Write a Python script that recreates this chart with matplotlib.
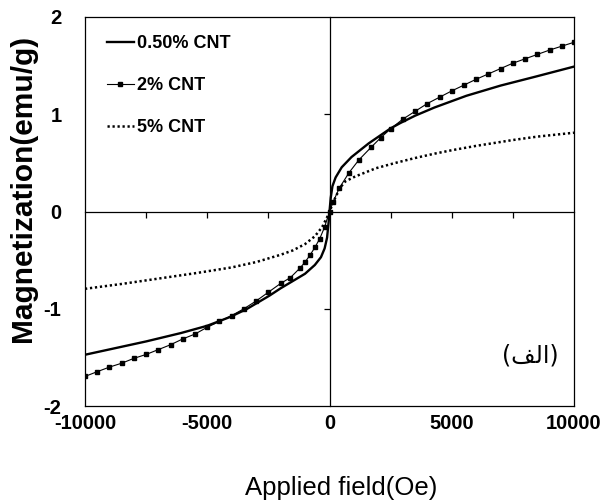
import matplotlib
matplotlib.use("Agg")
import matplotlib.pyplot as plt

plt.rcParams['font.family'] = ['Liberation Sans', 'DejaVu Sans']
plt.rcParams['axes.unicode_minus'] = False

# ---- data ----
field_05 = [-10000, -7500, -6080, -5000, -4070, -3385, -2460, -2000, -1500, -1000, -600, -350, -200,
            -100, -40, 0, 50, 120, 250, 500, 900, 1600, 2500, 2900, 3500, 4300, 5600, 7000,
            8400, 10000]
mag_05 = [-1.473, -1.336, -1.25, -1.175, -1.085, -1.003, -0.866, -0.79, -0.715, -0.64, -0.55, -0.47,
          -0.38, -0.27, -0.12, 0.0, 0.14, 0.26, 0.35, 0.455, 0.56, 0.70, 0.855, 0.91, 0.985, 1.07,
          1.19, 1.295, 1.385, 1.49]

field_2 = [-10000, -9500, -9000, -8500, -8000, -7500, -7000, -6500, -6000, -5500, -5000, -4500,
           -4000, -3500, -3000, -2500, -2000, -1600, -1200, -1000, -800, -600, -400, -200, 0,
           150, 400, 800, 1200, 1700, 2100, 2500, 3000, 3500, 4000, 4500, 5000, 5500, 6000,
           6500, 7000, 7500, 8000, 8500, 9000, 9500, 10000]
mag_2 = [-1.696, -1.647, -1.60, -1.56, -1.51, -1.47, -1.42, -1.37, -1.31, -1.26, -1.19, -1.13,
         -1.07, -1.00, -0.92, -0.83, -0.74, -0.68, -0.58, -0.52, -0.45, -0.37, -0.28, -0.16, 0.0,
         0.10, 0.24, 0.40, 0.53, 0.66, 0.76, 0.85, 0.95, 1.03, 1.11, 1.175, 1.24, 1.30, 1.36,
         1.415, 1.47, 1.525, 1.57, 1.615, 1.66, 1.70, 1.74]

field_5 = [-10000, -8500, -7000, -5500, -4000, -3000, -2000, -1500, -1000, -600, -300, -100, 0,
           100, 250, 450, 650, 1050, 1900, 2700, 3500, 4300, 5000, 6000, 7500, 8500, 10000]
mag_5 = [-0.795, -0.745, -0.69, -0.635, -0.575, -0.52, -0.445, -0.40, -0.335, -0.255, -0.16, -0.06,
         0.0, 0.06, 0.15, 0.25, 0.31, 0.36, 0.445, 0.50, 0.55, 0.595, 0.63, 0.675, 0.735, 0.77, 0.81]

series_labels = ['0.50% CNT', '2% CNT', '5% CNT']
x_ticks = [-10000, -5000, 0, 5000, 10000]
x_tick_labels = ['-10000', '-5000', '0', '5000', '10000']
y_ticks = [-2, -1, 0, 1, 2]
y_tick_labels = ['-2', '-1', '0', '1', '2']
x_minor_ticks = [-7500, -5000, -2500, 2500, 5000, 7500]
y_minor_ticks = [-1, 1]
x_label = 'Applied field(Oe)'
y_label = 'Magnetization(emu/g)'
panel_label = '(' + '\uFED2\uFEDF\uFE8D' + ')'

# ---- figure ----
fig = plt.figure(figsize=(6.06, 5.0), dpi=100)
pos = [85 / 606, 1 - 406 / 500, 489 / 606, 389 / 500]
ax = fig.add_axes(pos)
ax.set_xlim(-10000, 10000)
ax.set_ylim(-2, 2)

ax.plot(field_05, mag_05, color='black', lw=1.7, label=series_labels[0], zorder=3)
ax.plot(field_2, mag_2, color='black', lw=0.8, marker='s', ms=3, label=series_labels[1], zorder=3)
ax.plot(field_5, mag_5, color='black', lw=1.8, linestyle=(0, (0.9, 1.1)), label=series_labels[2], zorder=3)

for s in ax.spines.values():
    s.set_linewidth(0.9)
ax.set_xticks(x_ticks)
ax.set_xticklabels(x_tick_labels)
ax.set_yticks(y_ticks)
ax.set_yticklabels(y_tick_labels)
ax.tick_params(axis='both', length=0, labelsize=14.5)
ax.tick_params(axis='x', pad=5.5)
ax.tick_params(axis='y', pad=17)
for t in ax.get_xticklabels() + ax.get_yticklabels():
    t.set_fontweight('bold')

ax.set_ylabel(y_label, fontsize=21.5, fontweight='bold')
ax.yaxis.set_label_coords(-0.099, 0.56)
ax.set_xlabel(x_label, fontsize=18.5, va='baseline')
ax.xaxis.set_label_coords(0.523, -0.229)

leg = ax.legend(loc='upper left', bbox_to_anchor=(0.044, 0.953), frameon=False,
                borderpad=0, borderaxespad=0, handlelength=1.5, handletextpad=0.2,
                labelspacing=1.38, numpoints=1, prop={'size': 13, 'weight': 'bold'})

ax.text(0.91, 0.131, panel_label, transform=ax.transAxes, ha='center', va='center',
        fontsize=17, family=['DejaVu Sans'])

# zero lines with ticks (overlay axes)
axz = fig.add_axes(pos)
axz.set_xlim(-10000, 10000)
axz.set_ylim(-2, 2)
axz.patch.set_visible(False)
axz.spines['top'].set_visible(False)
axz.spines['right'].set_visible(False)
axz.spines['left'].set_position(('data', 0))
axz.spines['bottom'].set_position(('data', 0))
axz.spines['left'].set_linewidth(0.9)
axz.spines['bottom'].set_linewidth(0.9)
axz.set_xticks(x_minor_ticks)
axz.set_yticks(y_minor_ticks)
axz.tick_params(direction='out', length=4, width=0.9, labelleft=False, labelbottom=False)

fig.savefig('out.png', dpi=100)
